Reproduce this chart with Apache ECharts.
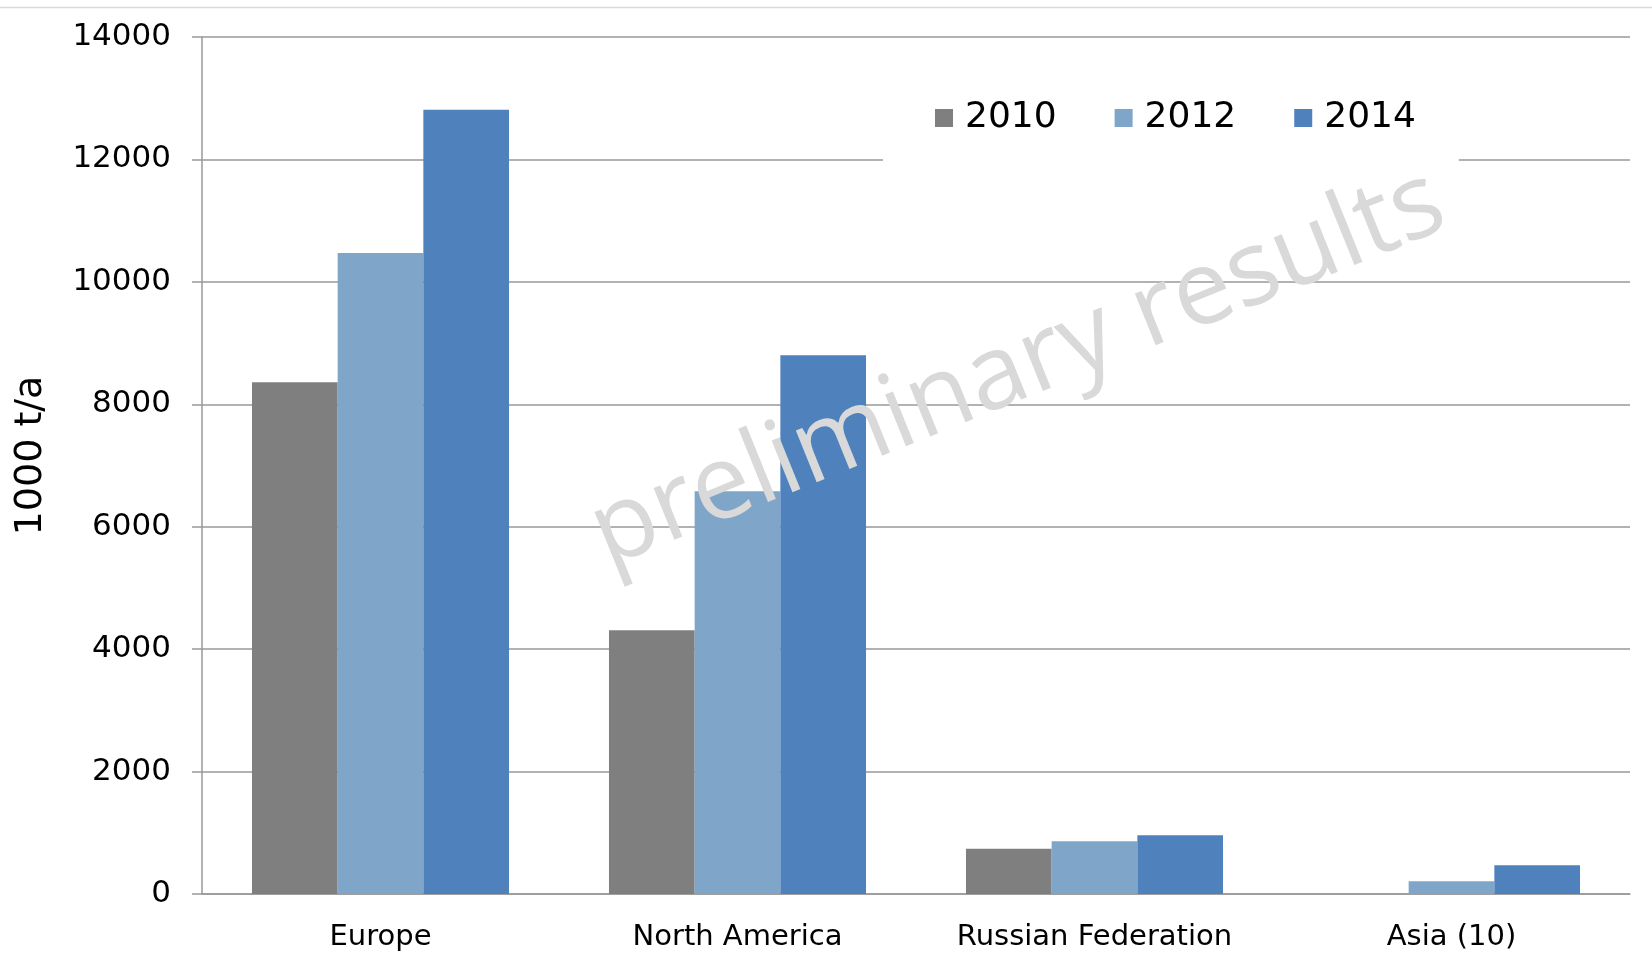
<!DOCTYPE html>
<html>
<head>
<meta charset="utf-8">
<script src="https://cdn.jsdelivr.net/npm/echarts@6/dist/echarts.min.js"></script>
<style>
  html, body { margin: 0; padding: 0; background: #fff; }
  #chart { width: 1652px; height: 955px; }
</style>
</head>
<body>
<div id="chart"></div>
<script>
// data
const regions = ['Europe', 'North America', 'Russian Federation', 'Asia (10)']
const years = ['2010', '2012', '2014']
const values2010 = [8360, 4310, 740, 0]
const values2012 = [10470, 6580, 860, 210]
const values2014 = [12810, 8800, 960, 470]
const yTicks = [0, 2000, 4000, 6000, 8000, 10000, 12000, 14000]

const colors = ['#7f7f7f', '#7fa6c9', '#4f81bd']
const font = 'DejaVu Sans'

const chart = echarts.init(document.getElementById('chart'))

function barSeries(name, data) {
  return {
    name: name,
    type: 'bar',
    data: data,
    barGap: 0,
    barCategoryGap: '28%'
  }
}

chart.setOption({
  color: colors,
  animation: false,
  grid: { left: 202, right: 22, top: 37, bottom: 61 },
  legend: {
    data: years,
    left: 883,
    top: 80,
    padding: [20, 43, 30, 52],
    backgroundColor: '#fff',
    itemWidth: 18,
    itemHeight: 18,
    itemGap: 58,
    icon: 'rect',
    textStyle: { fontFamily: font, fontSize: 36, color: '#000', padding: [0, 0, 0, 7] }
  },
  xAxis: {
    type: 'category',
    data: regions,
    axisLine: { lineStyle: { color: '#999', width: 1.5 } },
    axisTick: { show: false },
    axisLabel: { fontFamily: font, fontSize: 29, color: '#000', margin: 29, interval: 0 }
  },
  yAxis: {
    type: 'value',
    min: yTicks[0],
    max: yTicks[yTicks.length - 1],
    interval: 2000,
    name: '1000 t/a',
    nameLocation: 'middle',
    nameGap: 152,
    nameTextStyle: { fontFamily: font, fontSize: 38, color: '#000', padding: [0, 0, 0, 20] },
    axisLine: { show: true, lineStyle: { color: '#999', width: 1.5 } },
    axisTick: { show: true, length: 10, lineStyle: { color: '#999', width: 1.5 } },
    splitLine: { lineStyle: { color: '#999', width: 1.5 } },
    axisLabel: {
      fontFamily: font, fontSize: 31, color: '#000', margin: 31,
      formatter: v => String(v)
    }
  },
  graphic: [
    {
      type: 'line',
      shape: { x1: 0, y1: 7.5, x2: 1652, y2: 7.5 },
      style: { stroke: '#d9d9d9', lineWidth: 1.5 }
    },
    {
      type: 'text',
      x: 1018,
      y: 369,
      rotation: 22 * Math.PI / 180,
      z: 100,
      style: {
        text: 'preliminary results',
        fontFamily: 'Open Sans',
        fontSize: 104,
        fill: '#d9d9d9',
        align: 'center',
        verticalAlign: 'middle'
      }
    }
  ],
  series: [
    barSeries(years[0], values2010),
    barSeries(years[1], values2012),
    barSeries(years[2], values2014)
  ]
})
</script>
</body>
</html>
